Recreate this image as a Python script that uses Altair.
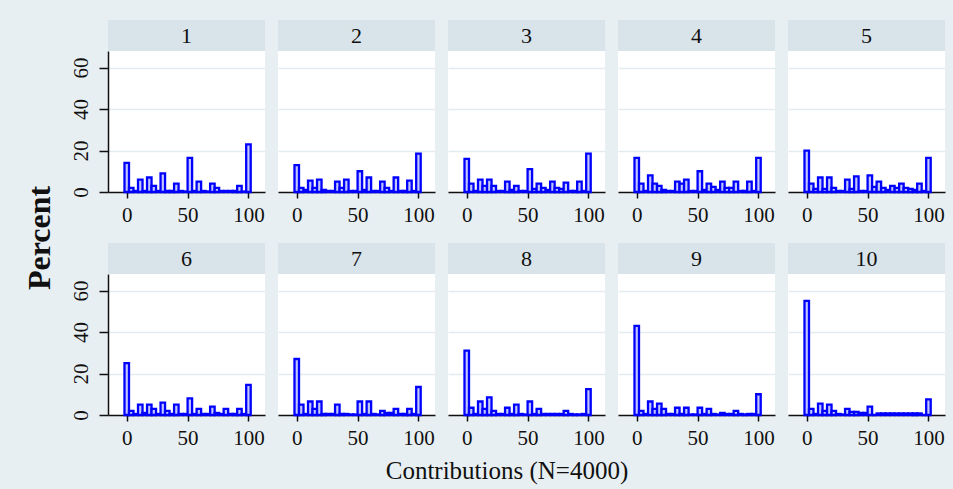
import altair as alt
import numpy as np
import pandas as pd

# Colours and fonts (Stata s2color look)
BG = "#e8eff2"
HEADER = "#d9e4ea"
GRID = "#e3ebef"
BLUE = "#0000ff"
BAR_FILL = "#c2c8ff"
INK = "#101010"
SERIF = "Liberation Serif"

# Histogram bins: 28 bins of width 100/27 centred on 0 ... 100
N_BINS = 28
BIN_W = 100 / 27

# Panel labels (periods) and percent of contributions per bin
periods = ["1", "2", "3", "4", "5", "6", "7", "8", "9", "10"]

pct_1 = [14, 2, 0.5, 6, 0.5, 7, 3, 0.5, 9, 0.5, 0.5, 4, 0.5, 0.25, 16.5, 0.5, 5, 0.5, 0.25, 4, 2, 0.5, 0.5, 0.5, 0.5, 3, 0.25, 23]
pct_2 = [13, 2, 1, 5.5, 2, 6, 1, 0.5, 0.5, 5, 2, 6, 0.5, 0.5, 10, 1, 7, 0.5, 0.5, 5, 2, 0.5, 7, 0.5, 0.5, 5.5, 0.5, 18.5]
pct_3 = [16, 4, 0.5, 6, 3, 6, 3, 0.5, 0.5, 5, 1, 3, 0.5, 0.5, 11, 1.5, 4, 2, 1, 5, 2, 1.5, 4.5, 0.5, 0.5, 5, 0.5, 18.5]
pct_4 = [16.5, 4, 0.5, 8, 4, 3, 1, 0.5, 0.5, 5, 4, 6, 0.5, 0.5, 10, 1, 4, 2.5, 1, 5, 2, 2, 5, 0.5, 0.5, 5, 0.5, 16.5]
pct_5 = [20, 4, 1.5, 7, 1.5, 7, 2, 0.5, 0.5, 6, 1.5, 7.5, 0.5, 0.5, 8, 2.5, 5, 2, 1, 3, 2, 4, 2, 1.5, 1, 4, 0.5, 16.5]
pct_6 = [25, 2, 0.5, 5, 1, 5, 3, 0.5, 6, 2, 0.5, 5, 0.5, 0.5, 8, 0.5, 3, 0.5, 0.5, 4, 1, 0.5, 3, 0.5, 0.5, 3, 0.5, 14.5]
pct_7 = [27, 5, 0.5, 6.5, 3, 6.5, 0.5, 0.5, 0.5, 5, 0.5, 0.5, 0.25, 0.25, 6.5, 0.5, 6.5, 0.5, 0.25, 2, 1, 1, 3, 0.5, 0.5, 3, 0.5, 13.5]
pct_8 = [31, 3.5, 0.5, 6.5, 3, 8.5, 2, 0.5, 0.5, 3.5, 0.5, 5, 0.5, 0.25, 6.5, 0.5, 3, 0.5, 0.5, 0.5, 0.5, 0.5, 2, 0.5, 0.25, 0.25, 0.5, 12.5]
pct_9 = [43, 2, 0.5, 6.5, 3, 5.5, 3, 0.5, 0.5, 3.5, 0.5, 3.5, 0.25, 0.25, 3.5, 0.5, 3, 0.5, 0.25, 1, 0.5, 0.5, 2, 0.5, 0.25, 0.5, 0.5, 10]
pct_10 = [55, 3, 0.5, 5.5, 2, 5, 2, 0.5, 0.25, 3, 1.5, 1.5, 1, 1, 4, 0, 0.75, 0.75, 0.75, 0.75, 0.75, 0.75, 0.75, 0.75, 0.75, 0.75, 0, 7.5]

all_pct = [pct_1, pct_2, pct_3, pct_4, pct_5, pct_6, pct_7, pct_8, pct_9, pct_10]

y_ticks = [0, 20, 40, 60]
x_ticks = [0, 50, 100]
y_title = "Percent"
x_title = "Contributions (N=4000)"

# Panel geometry
W, H = 157, 141
HEAD_H = 31
COL_GAP, ROW_GAP = 13, 82

x_scale = alt.Scale(domain=[-15.4, 113.6], nice=False, zero=False)
y_scale = alt.Scale(domain=[0, 68], nice=False, zero=False)


def make_panel(idx):
    col = idx % 5
    lefts = -BIN_W / 2 + BIN_W * np.arange(N_BINS)
    df = pd.DataFrame({"x0": lefts, "x1": lefts + BIN_W, "pct": all_pct[idx]})
    first = col == 0

    y_axis = alt.Axis(
        values=y_ticks, title=None, grid=True, gridColor=GRID, gridWidth=1.6,
        domain=first, ticks=first, labels=first,
        domainColor=INK, domainWidth=1.5, tickColor=INK, tickWidth=1.5, tickSize=9,
        labelFont=SERIF, labelFontSize=21, labelColor=INK,
        labelAngle=270, labelAlign="center", labelBaseline="bottom", labelPadding=8,
    )
    x_axis = alt.Axis(
        values=x_ticks, title=None, grid=False,
        domainColor=INK, domainWidth=1.5, tickColor=INK, tickWidth=1.5, tickSize=6,
        labelFont=SERIF, labelFontSize=21, labelColor=INK, labelPadding=6,
        labelFlush=False, labelOverlap=False,
    )

    bars = alt.Chart(df).mark_rect(
        fill=BAR_FILL, stroke=BLUE, strokeWidth=2.3
    ).encode(
        x=alt.X("x0:Q", scale=x_scale, axis=x_axis),
        x2="x1",
        y=alt.Y("pct:Q", scale=y_scale, axis=y_axis),
        y2=alt.datum(0),
    )

    lab = pd.DataFrame({"label": [periods[idx]]})
    head_box = alt.Chart(lab).mark_rect(fill=HEADER, strokeWidth=0).encode(
        x=alt.value(0), x2=alt.value(W), y=alt.value(-HEAD_H), y2=alt.value(0)
    )
    head_txt = alt.Chart(lab).mark_text(
        font=SERIF, fontSize=22, color=INK, align="center", baseline="middle"
    ).encode(text="label:N", x=alt.value(W / 2), y=alt.value(-HEAD_H / 2))

    layers = [head_box, head_txt, bars]

    if idx == 0:
        # canvas corner anchor and the shared y title
        layers.append(
            alt.Chart(lab).mark_rect(fill=BG, strokeWidth=0).encode(
                x=alt.value(-108), x2=alt.value(-107), y=alt.value(-51), y2=alt.value(-50)
            )
        )
        layers.append(
            alt.Chart(pd.DataFrame({"t": [y_title]})).mark_text(
                font=SERIF, fontSize=32, fontWeight="bold", color=INK,
                angle=270, align="center", baseline="middle",
            ).encode(text="t:N", x=alt.value(-68), y=alt.value(187))
        )
    if idx == 7:
        layers.append(
            alt.Chart(pd.DataFrame({"t": [x_title]})).mark_text(
                font=SERIF, fontSize=25, color=INK, align="center", baseline="alphabetic",
            ).encode(text="t:N", x=alt.value(59), y=alt.value(205))
        )
    if idx == 9:
        # opposite canvas corner anchor
        layers.append(
            alt.Chart(lab).mark_rect(fill=BG, strokeWidth=0).encode(
                x=alt.value(164), x2=alt.value(165), y=alt.value(214), y2=alt.value(215)
            )
        )

    return alt.layer(*layers).properties(width=W, height=H)


panels = [make_panel(i) for i in range(10)]

chart = alt.concat(
    *panels,
    columns=5,
    spacing={"row": ROW_GAP, "column": COL_GAP},
    bounds="flush",
).configure(
    background=BG, padding=0
).configure_view(
    fill="white", stroke=None
)

chart.save("out.html", embed_options={"renderer": "svg", "actions": False})
